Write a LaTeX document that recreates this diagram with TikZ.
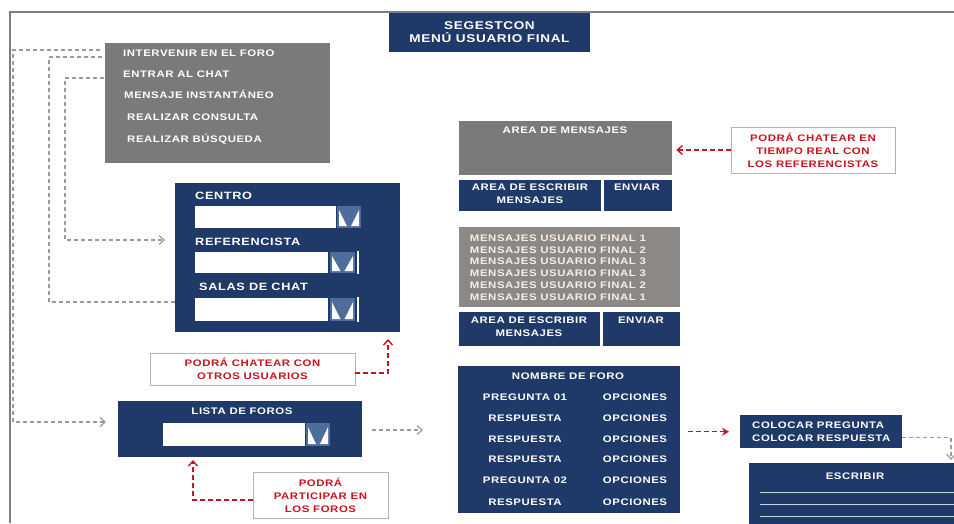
\documentclass[tikz,border=0pt]{standalone}
\usepackage{fontspec}
\setmainfont{Liberation Sans}[FakeStretch=1.2,LetterSpace=6]
\usetikzlibrary{arrows.meta}

\definecolor{azulmenu}{HTML}{1F3A68}
\definecolor{grismenu}{HTML}{7A7A7A}
\definecolor{grismsj}{HTML}{8C8886}
\definecolor{azulboton}{HTML}{4E6D9C}
\definecolor{rojonota}{HTML}{C8141E}
\definecolor{grislinea}{HTML}{9A9A9A}
\definecolor{grisborde}{HTML}{B4B4B4}
\definecolor{grismarco}{HTML}{7F7F7F}
\definecolor{lineaclara}{HTML}{C9D2E2}
\definecolor{crema}{HTML}{F4F0E8}

% boton de lista desplegable: x0, y0, x1, y1
\newcommand{\botonlista}[4]{%
  \fill[azulboton] (#1,#2) rectangle (#3,#4);
  \fill[white] (#1+2,#2+4) -- (#1+2,#4-2) -- ({(#1+#3)/2-2},#4-2) -- cycle;
  \fill[white] (#3-2,#2+4) -- (#3-2,#4-2) -- ({(#1+#3)/2+2},#4-2) -- cycle;
}

\begin{document}
\begin{tikzpicture}[x=1pt, y=-1pt,
    every node/.style={font=\bfseries\fontsize{9.5}{13}\selectfont, inner sep=0pt},
    azul/.style={fill=azulmenu, anchor=north west},
    gris/.style={fill=grismenu, anchor=north west},
    campo/.style={fill=white, anchor=north west},
    texto/.style={text=white, text height=6.8pt, text depth=0pt},
    bloque/.style={text=white, align=center},
    rotulo/.style={text=white, anchor=west, text height=7.6pt, text depth=0pt,
      font=\bfseries\fontsize{10.6}{12}\selectfont},
    nota/.style={draw=grisborde, line width=0.8pt, fill=white, text=rojonota, align=center},
    conector/.style={draw=grislinea, line width=1.2pt, dash pattern=on 4pt off 3pt,
      -{Straight Barb[length=5pt,width=9pt]}},
    flechanota/.style={draw=rojonota, line width=1.4pt, dash pattern=on 5pt off 3pt,
      -{Straight Barb[length=5pt,width=9pt]}}]

  \useasboundingbox (0,0) rectangle (954,523);
  \clip (0,0) rectangle (954,523);

  % marco
  \draw[grismarco, line width=1.3pt] (10,523) -- (10,12) -- (954,12);

  % titulo
  \node[fill=azulmenu, text=white, align=center, minimum width=201pt, minimum height=39pt,
    font=\bfseries\fontsize{11.3}{13}\selectfont] (titulo) at (489.5,32.5) {SEGESTCON\\MENÚ USUARIO FINAL};

  % menu de opciones
  \node[gris, minimum width=225pt, minimum height=120pt] (menu) at (105,43) {};
  \node[texto, anchor=west] (op1) at (123,53) {INTERVENIR EN EL FORO};
  \node[texto, anchor=west] (op2) at (123,74) {ENTRAR AL CHAT};
  \node[texto, anchor=west] (op3) at (124,95) {MENSAJE INSTANTÁNEO};
  \node[texto, anchor=west] (op4) at (127,117) {REALIZAR CONSULTA};
  \node[texto, anchor=west] (op5) at (127,139) {REALIZAR BÚSQUEDA};

  % conectores del menu
  \coordinate (s1) at (100,50);
  \coordinate (s2) at (102,57);
  \coordinate (s3) at (104,78);
  \coordinate (e1) at (106,422);
  \coordinate (e2) at (183,302);
  \coordinate (e3) at (165,240);
  \draw[conector] (s1) -- (13,50) |- (e1);
  \draw[conector] (s2) -- (49,57) |- (e2);
  \draw[conector] (s3) -- (65,78) |- (e3);

  % chat
  \node[azul, minimum width=225pt, minimum height=149pt] (chat) at (175,183) {};
  \node[rotulo] (lbCentro) at (195,196) {CENTRO};
  \node[campo, minimum width=141pt, minimum height=22pt] (cCentro) at (195,206) {};
  \botonlista{337}{206}{361}{228}
  \node[rotulo] (lbRef) at (195,242) {REFERENCISTA};
  \node[campo, minimum width=133pt, minimum height=21pt] (cRef) at (195,252) {};
  \botonlista{330}{252}{355}{273}
  \draw[white, line width=1.2pt] (358,251) -- (358,274);
  \node[rotulo] (lbSalas) at (199,287) {SALAS DE CHAT};
  \node[campo, minimum width=133pt, minimum height=23pt] (cSalas) at (195,298) {};
  \botonlista{330}{298}{355}{321}
  \draw[white, line width=1.2pt] (358,297) -- (358,322);

  \node[nota, minimum width=205pt, minimum height=32pt] (nota1) at (252.5,369) {PODRÁ CHATEAR CON\\OTROS USUARIOS};
  \coordinate (n1fin) at (388,339);
  \draw[flechanota] ([yshift=-4pt]nota1.east) -| (n1fin);

  % lista de foros
  \node[azul, minimum width=244pt, minimum height=56pt] (foros) at (118,401) {};
  \node[texto] (lbForos) at (242,411) {LISTA DE FOROS};
  \node[campo, minimum width=142pt, minimum height=23pt] (cForos) at (163,423) {};
  \botonlista{306}{423}{330}{446}
  \coordinate (fsal) at (372,430);
  \coordinate (fleg) at (423,430);
  \draw[conector] (fsal) -- (fleg);

  \node[nota, minimum width=135pt, minimum height=46pt] (nota2) at (320.5,495) {PODRÁ\\PARTICIPAR EN\\LOS FOROS};
  \coordinate (n2fin) at (193,460);
  \draw[flechanota] ([yshift=-5pt]nota2.west) -| (n2fin);

  % area de mensajes
  \node[gris, minimum width=213pt, minimum height=54pt] (areaMsj) at (459,121) {};
  \node[texto] (lbArea) at (565,130) {AREA DE MENSAJES};
  \node[azul, minimum width=142pt, minimum height=31pt] (escr1) at (459,180) {};
  \node[azul, minimum width=68pt, minimum height=31pt] (env1) at (604,180) {};
  \node[bloque] (lbEscr1) at (530,193.5) {AREA DE ESCRIBIR\\MENSAJES};
  \node[texto] (lbEnv1) at (637,187) {ENVIAR};

  \node[nota, minimum width=164pt, minimum height=46pt] (nota3) at (813,150) {PODRÁ CHATEAR EN\\TIEMPO REAL CON\\LOS REFERENCISTAS};
  \draw[flechanota, shorten >=4pt] (nota3.west) -- (nota3.west -| areaMsj.east);

  % mensajes de usuarios
  \node[fill=grismsj, anchor=north west, minimum width=221pt, minimum height=80pt] (msjs) at (459,227) {};
  \node[bloque, text=crema, font=\bfseries\fontsize{9.5}{11.8}\selectfont] (lbMsjs) at (558,267.5)
    {MENSAJES USUARIO FINAL 1\\MENSAJES USUARIO FINAL 2\\MENSAJES USUARIO FINAL 3\\
     MENSAJES USUARIO FINAL 3\\MENSAJES USUARIO FINAL 2\\MENSAJES USUARIO FINAL 1};
  \node[azul, minimum width=141pt, minimum height=34pt] (escr2) at (459,312) {};
  \node[azul, minimum width=77pt, minimum height=34pt] (env2) at (603,312) {};
  \node[bloque] (lbEscr2) at (529,326.5) {AREA DE ESCRIBIR\\MENSAJES};
  \node[texto] (lbEnv2) at (641,320) {ENVIAR};

  % foro
  \node[azul, minimum width=222pt, minimum height=147pt] (foro) at (458,366) {};
  \node[texto] (lbForo) at (568,376) {NOMBRE DE FORO};
  \foreach \t/\y [count=\i] in {PREGUNTA 01/397, RESPUESTA/418, RESPUESTA/439,
      RESPUESTA/459, PREGUNTA 02/480, RESPUESTA/502} {
    \node[texto] (izq\i) at (525,\y) {\t};
    \node[texto] (der\i) at (635,\y) {OPCIONES};
  }

  \node[azul, minimum width=162pt, minimum height=33pt] (colocar) at (740,415) {};
  \node[bloque, align=left, anchor=west] (lbColocar) at (752,431.5) {COLOCAR PREGUNTA\\COLOCAR RESPUESTA};
  \draw[flechanota, -{Stealth[length=7pt,width=8pt]}, shorten <=8pt, shorten >=11pt]
    (foro.east |- colocar.west) -- (colocar.west);

  \node[azul, minimum width=211pt, minimum height=67pt] (escribir) at (749,463) {};
  \node[texto] (lbEscribir) at (855,476) {ESCRIBIR};
  \foreach \y in {492,504,516}
    \draw[lineaclara, line width=1pt] (760,\y) -- (960,\y);
  \coordinate (cfin) at (951,460);
  \draw[conector] ([yshift=-5.5pt]colocar.east) -| (cfin);

\end{tikzpicture}
\end{document}
